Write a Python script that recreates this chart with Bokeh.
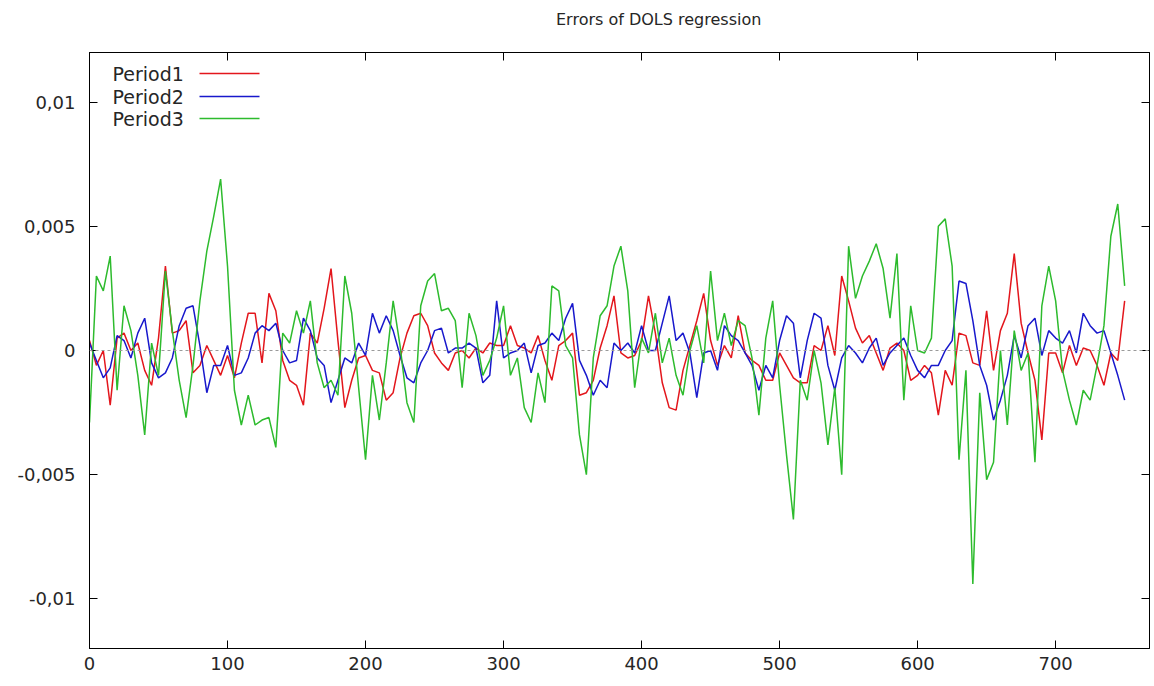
from bokeh.plotting import figure
from bokeh.models import LinearAxis, FixedTicker, Span, Label, Arrow, Range1d, Div
from bokeh.layouts import column
from bokeh.embed import file_html
from bokeh.resources import INLINE

steps = list(range(0, 755, 5))

# residuals, in thousandths (x 1e-3)
period1 = [
    0.4, -0.6, 0.0, -2.2, 0.5, 0.7, 0.0, 0.3, -0.8, -1.4,
    0.5, 3.4, 0.7, 0.8, 1.2, -0.9, -0.6, 0.2, -0.4, -1.0,
    -0.2, -1.1, 0.3, 1.5, 1.5, -0.5, 2.3, 1.6, -0.4, -1.2,
    -1.4, -2.2, 0.7, 0.3, 1.7, 3.3, 0.4, -2.3, -1.2, -0.3,
    -0.2, -0.8, -0.9, -2.0, -1.7, -0.3, 0.7, 1.4, 1.5, 1.0,
    -0.1, -0.5, -0.8, -0.1, 0.0, -0.3, 0.1, -0.1, 0.3, 0.2,
    0.2, 1.0, 0.2, 0.1, -0.1, 0.6, -0.4, -1.2, 0.2, 0.4,
    0.7, -1.8, -1.7, -1.2, 0.1, 1.0, 2.2, -0.1, -0.3, -0.2,
    0.4, 2.2, 0.7, -1.3, -2.3, -2.4, -0.8, 0.2, 1.2, 2.3,
    0.4, -0.6, 0.2, -0.3, 1.4, -0.1, -0.4, -0.6, -1.2, -1.2,
    -0.1, -0.6, -1.1, -1.3, -1.3, 0.2, 0.0, 1.0, -0.2, 3.0,
    2.0, 0.9, 0.3, 0.6, -0.1, -0.8, 0.1, 0.3, 0.0, -1.2,
    -1.0, -0.6, -0.9, -2.6, -0.8, -1.4, 0.7, 0.6, -0.5, -0.6,
    1.6, -0.8, 0.8, 1.5, 3.9, 1.1, -0.1, -1.2, -3.6, -0.1,
    -0.1, -0.9, 0.2, -0.6, 0.1, 0.0, -0.6, -1.4, -0.1, -0.4,
    2.0,
]
period2 = [
    0.3, -0.4, -1.1, -0.7, 0.6, 0.4, -0.3, 0.7, 1.3, -0.5,
    -1.1, -0.9, -0.3, 1.0, 1.7, 1.8, 0.2, -1.7, -0.6, -0.6,
    0.2, -1.0, -0.9, -0.3, 0.7, 1.0, 0.8, 1.1, 0.0, -0.5,
    -0.4, 1.3, 0.8, -0.3, -0.6, -2.1, -1.2, -0.3, -0.5, 0.3,
    -0.2, 1.5, 0.7, 1.4, 0.8, -0.2, -1.1, -1.3, -0.5, 0.0,
    0.8, 0.9, -0.1, 0.1, 0.1, 0.3, 0.1, -1.3, -1.0, 2.0,
    -0.3, -0.1, 0.0, 0.3, -0.9, 0.2, 0.3, 0.7, 0.4, 1.3,
    1.9, -0.4, -1.0, -1.8, -1.2, -1.5, 0.3, 0.0, 0.3, -0.1,
    1.0, 0.0, 0.0, 1.1, 2.2, 0.4, 0.7, -0.1, -1.9, -0.1,
    0.0, -0.8, 1.0, 0.6, 0.4, -0.1, -0.6, -1.6, -0.6, -1.1,
    0.4, 1.4, 1.1, -1.1, 0.4, 1.5, 1.3, -0.6, -1.6, -0.3,
    0.2, -0.1, -0.5, 0.1, 0.5, -0.6, -0.1, 0.2, 0.5, -0.2,
    -0.8, -1.1, -0.6, -0.6, 0.0, 0.4, 2.8, 2.7, 1.2, -0.6,
    -1.4, -2.8, -2.0, -1.0, 0.6, -0.3, 1.0, 1.3, -0.2, 0.8,
    0.5, 0.3, 0.8, -0.1, 1.5, 1.0, 0.7, 0.8, -0.1, -1.0,
    -2.0,
]
period3 = [
    -2.9, 3.0, 2.4, 3.8, -1.6, 1.8, 0.8, -1.0, -3.4, 0.3,
    -1.0, 3.2, 0.8, -1.2, -2.7, -0.6, 2.0, 4.0, 5.4, 6.9,
    3.4, -1.6, -3.0, -1.8, -3.0, -2.8, -2.7, -3.9, 0.7, 0.3,
    1.6, 0.7, 2.0, -0.5, -1.5, -1.2, -1.8, 3.0, 1.5, -1.5,
    -4.4, -1.0, -2.8, -0.5, 2.0, 0.2, -2.1, -2.9, 1.8, 2.8,
    3.1, 1.6, 1.7, 1.2, -1.5, 1.5, 0.6, -1.0, -0.4, 0.5,
    1.8, -1.0, -0.3, -2.3, -2.9, -0.9, -2.1, 2.6, 2.4, 0.2,
    -0.3, -3.4, -5.0, -0.3, 1.4, 1.8, 3.4, 4.2, 2.4, -1.5,
    0.5, -0.1, 1.5, -0.5, 0.5, -1.0, -1.8, 0.0, 1.0, -0.5,
    3.2, 0.4, 1.5, 0.2, 1.2, 1.0, -0.3, -2.6, 0.5, 2.0,
    -1.4, -4.2, -6.8, -1.2, -2.0, 0.0, -1.3, -3.8, -1.5, -5.0,
    4.2, 2.1, 3.0, 3.6, 4.3, 3.3, 1.3, 3.9, -2.0, 1.8,
    0.0, -0.1, 0.5, 5.0, 5.3, 3.4, -4.4, -0.8, -9.4, -1.7,
    -5.2, -4.5, 0.0, -3.0, 0.8, -0.8, -0.1, -4.5, 1.8, 3.4,
    2.0, -0.8, -2.0, -3.0, -1.6, -2.0, -0.6, 1.0, 4.6, 5.9,
    2.6,
]

series_names = ["Period1", "Period2", "Period3"]
series_colors = ["#e3161c", "#1818cc", "#2dbb2d"]
series_values = [period1, period2, period3]

x_ticks = [0, 100, 200, 300, 400, 500, 600, 700]
y_ticks = [-0.01, -0.005, 0.0, 0.005, 0.01]
y_tick_labels = {-0.01: "-0,01", -0.005: "-0,005", 0.0: "0", 0.005: "0,005", 0.01: "0,01"}
title_text = "Errors of DOLS regression"

FONT = "DejaVu Sans"
TXT = "#262626"

title_div = Div(text=title_text, width=1153, height=40, margin=(0, 0, 0, 0),
                styles={"font-family": FONT, "font-size": "16px", "color": TXT,
                        "line-height": "40px", "text-indent": "556px",
                        "white-space": "nowrap", "background-color": "white"})

p = figure(frame_width=1060, frame_height=596,
           x_range=Range1d(0, 768), y_range=Range1d(-0.012, 0.012),
           output_backend="svg", toolbar_location=None,
           min_border_left=89, min_border_right=4, min_border_top=12, min_border_bottom=36,
           background_fill_color="white", border_fill_color="white",
           margin=(0, 0, 0, 0))
p.xgrid.visible = False
p.ygrid.visible = False
p.outline_line_color = "black"
p.outline_line_width = 1


def style_axis(ax, labels=True):
    ax.major_tick_in = 8
    ax.major_tick_out = 0
    ax.minor_tick_in = 0
    ax.minor_tick_out = 0
    ax.axis_line_color = "black"
    ax.major_tick_line_color = "black"
    ax.major_label_text_font = FONT
    if labels:
        ax.major_label_text_font_size = "18px"
        ax.major_label_text_color = TXT
    else:
        ax.major_label_text_font_size = "0px"
        ax.major_label_text_color = None
        ax.major_label_standoff = 0


xa = p.xaxis[0]
xa.ticker = FixedTicker(ticks=x_ticks)
style_axis(xa)
xa.major_label_standoff = 8

ya = p.yaxis[0]
ya.ticker = FixedTicker(ticks=y_ticks)
ya.major_label_overrides = y_tick_labels
style_axis(ya)
ya.major_label_standoff = 14

top_ax = LinearAxis(ticker=FixedTicker(ticks=x_ticks))
style_axis(top_ax, labels=False)
p.add_layout(top_ax, "above")
right_ax = LinearAxis(ticker=FixedTicker(ticks=y_ticks))
style_axis(right_ax, labels=False)
p.add_layout(right_ax, "right")

p.add_layout(Span(location=0, dimension="width", line_color="#9a9a9a",
                  line_dash="3 3", line_width=1))

for vals, col in zip(series_values, series_colors):
    p.line(steps, [v * 1e-3 for v in vals], line_color=col, line_width=1.5)

# gnuplot-style key: label on the left, sample line on the right
key_y = [575, 552, 530]
for name, col, ky in zip(series_names, series_colors, key_y):
    p.add_layout(Label(x=23, y=ky, x_units="screen", y_units="screen", text=name,
                       text_font=FONT, text_font_size="19px", text_color=TXT,
                       text_baseline="middle", text_align="left"))
    p.add_layout(Arrow(start=None, end=None, x_start=110, y_start=ky, x_end=170, y_end=ky,
                       start_units="screen", end_units="screen",
                       line_color=col, line_width=1.5))

layout = column(title_div, p, spacing=0)
open("out.html", "w").write(file_html(layout, INLINE, title=title_text))
